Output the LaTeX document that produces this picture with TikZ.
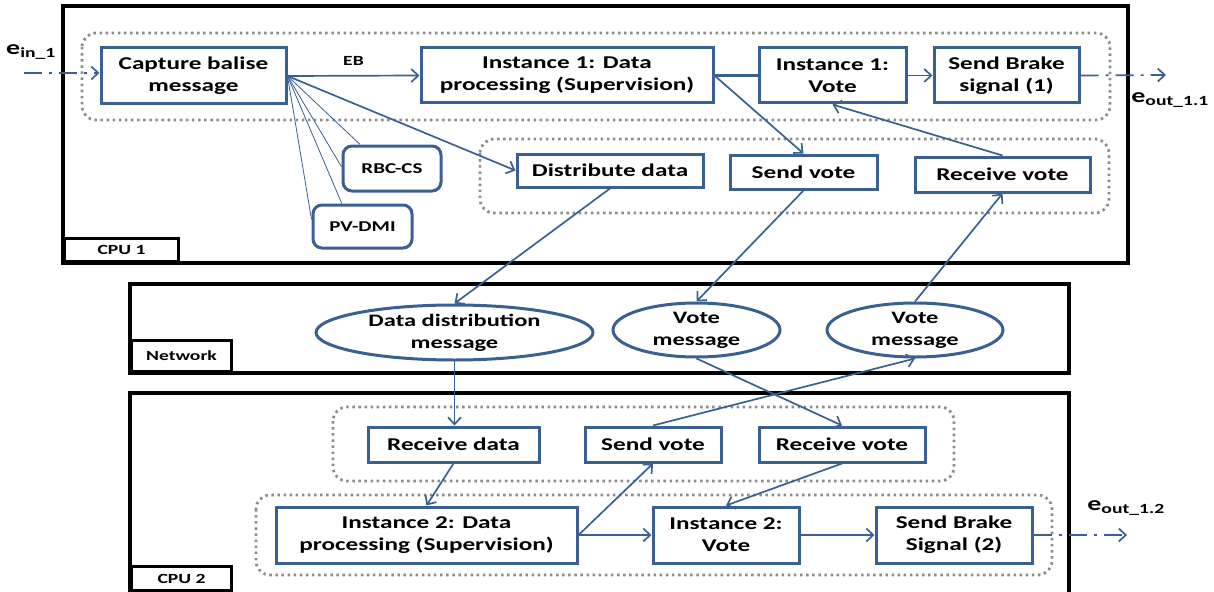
\documentclass[tikz,border=0pt]{standalone}
\usepackage{fontspec}
\setmainfont{Carlito}[FakeStretch=1.4]
\usetikzlibrary{arrows.meta,shapes.geometric}
\definecolor{boxblue}{RGB}{58,96,146}
\definecolor{dotgray}{RGB}{140,140,140}

\begin{document}
\begin{tikzpicture}
[x=1pt, y=-1pt,
> = {Straight Barb[length=7pt,width=13pt]}, % open arrow head
box/.style={draw=boxblue, line width=3pt, align=center, inner sep=0pt,
  font=\bfseries\fontsize{18}{22}\selectfont},
rbox/.style={box, rounded corners=9pt, font=\bfseries\fontsize{15}{18}\selectfont},
msg/.style={box, ellipse, inner ysep=-5pt, font=\bfseries\fontsize{17.5}{22}\selectfont},
grp/.style={draw=dotgray, line width=2.8pt, dash pattern=on 2.5pt off 3.6pt, rounded corners=14pt},
cpuframe/.style={draw=black, line width=3.5pt},
tag/.style={draw=black, line width=3pt, inner sep=0pt, font=\bfseries\fontsize{14}{16}\selectfont},
flow/.style={->, draw=boxblue, line width=1.7pt},
fan/.style={draw=boxblue, line width=0.8pt},
ext/.style={flow, dash pattern=on 18pt off 7pt on 3pt off 7pt},
lbl/.style={inner sep=0pt, font=\bfseries\fontsize{20}{24}\selectfont}
]
\useasboundingbox (0,0) rectangle (1214,591);

% frames
\draw[cpuframe] (63,6) rectangle (1128,263);
\draw[cpuframe] (130,284) rectangle (1069,373);
\draw[cpuframe] (130,393) rectangle (1069,594);
\node[tag, minimum width=114, minimum height=23, anchor=south west] (cpuA) at (63,263) {CPU 1};
\node[tag, minimum width=100, minimum height=31, anchor=south west] (net) at (130,373) {Network};
\node[tag, minimum width=100, minimum height=24, anchor=south west] (cpuB) at (130,592) {CPU 2};

% dotted groups
\draw[grp] (82,33) rectangle (1110,120);
\draw[grp] (480,139) rectangle (1109,213);
\draw[grp] (333,407) rectangle (954,481);
\draw[grp] (256,495) rectangle (1052,575);

% CPU 1
\node[box, minimum width=185, minimum height=56] (capture) at (193.5,76) {Capture balise\\message};
\node[box, minimum width=292, minimum height=55] (inst1dp) at (567,75.5) {Instance 1: Data\\processing (Supervision)};
\node[box, minimum width=147, minimum height=55] (inst1vote) at (832.5,75.5) {Instance 1:\\Vote};
\node[box, minimum width=145, minimum height=55] (brake1) at (1006.5,75.5) {Send Brake\\signal (1)};
\node[rbox, minimum width=98, minimum height=45] (rbccs) at (392,168.5) {RBC-CS};
\node[rbox, minimum width=99, minimum height=43] (pvdmi) at (362.5,226.5) {PV-DMI};
\node[box, minimum width=186, minimum height=33] (distrib) at (610,170.5) {Distribute data};
\node[box, minimum width=147, minimum height=34] (sendvoteA) at (803.5,172) {Send vote};
\node[box, minimum width=175, minimum height=35] (recvvoteA) at (1002.5,174.5) {Receive vote};

% network
\node[msg, minimum width=277, minimum height=55] (ddmsg) at (454.5,332.5) {Data distribution\\message};
\node[msg, minimum width=167, minimum height=54] (voteA) at (696.5,330) {Vote\\message};
\node[msg, minimum width=176, minimum height=54] (voteB) at (915,330) {Vote\\message};

% CPU 2
\node[box, minimum width=171, minimum height=35] (recvdata) at (453.5,444.5) {Receive data};
\node[box, minimum width=136, minimum height=35] (sendvoteB) at (653,444.5) {Send vote};
\node[box, minimum width=166, minimum height=35] (recvvoteB) at (842,444.5) {Receive vote};
\node[box, minimum width=301, minimum height=56] (inst2dp) at (426.5,535) {Instance 2: Data\\processing (Supervision)};
\node[box, minimum width=146, minimum height=56] (inst2vote) at (726,535) {Instance 2:\\Vote};
\node[box, minimum width=156, minimum height=56] (brake2) at (954,535) {Send Brake\\Signal (2)};

% inputs and outputs
\node[lbl] (ein) at (31,52) {e\textsubscript{in\_1}};
\node[lbl] (eoutA) at (1170,100) {e\textsubscript{out\_1.1}};
\node[lbl] (eoutB) at (1126,508) {e\textsubscript{out\_1.2}};
\coordinate (inA) at (24,73);
\coordinate (outA) at (1166,75);
\coordinate (outB) at (1127,535);
\draw[ext] (inA) -- (inA -| capture.west);
\draw[ext] (brake1.east) -- (outA);
\draw[ext] (brake2.east) -- (outB);

% connectors
\draw[flow] (capture.east) -- node[above=6pt, text=black, font=\bfseries\fontsize{14}{16}\selectfont] {EB} (inst1dp.west);
\draw[draw=boxblue, line width=2.5pt] (inst1dp.east) -- (inst1vote.west);
\draw[flow] (inst1vote) -- (brake1);
\draw[flow] (capture.east) -- (distrib.west);
\draw[fan] (capture.east) -- (rbccs.143);
\draw[fan] (capture.east) -- (rbccs.178);
\draw[fan] (capture.east) -- (pvdmi.132);
\draw[fan] (capture.east) -- (pvdmi.172);
\draw[flow] (inst1dp.east) -- (sendvoteA.north);
\draw[flow] (recvvoteA.north) -- (inst1vote.south);
\draw[flow] (distrib.south) -- (ddmsg.north);
\draw[flow] (sendvoteA.south) -- (voteA.north);
\draw[flow] (voteB.north) -- (recvvoteA.south);
\draw[flow] (ddmsg.south) -- (ddmsg.south |- recvdata.north);
\draw[flow] (voteA.south) -- (recvvoteB.north);
\draw[flow] (sendvoteB.north) -- (voteB.south);
\draw[flow] (recvdata.south) -- (inst2dp.north);
\draw[flow] (inst2dp.east) -- (sendvoteB.south);
\draw[flow] (inst2dp.east) -- (inst2vote.west);
\draw[flow] (recvvoteB.south) -- (inst2vote.north);
\draw[flow] (inst2vote) -- (brake2);
\end{tikzpicture}
\end{document}
